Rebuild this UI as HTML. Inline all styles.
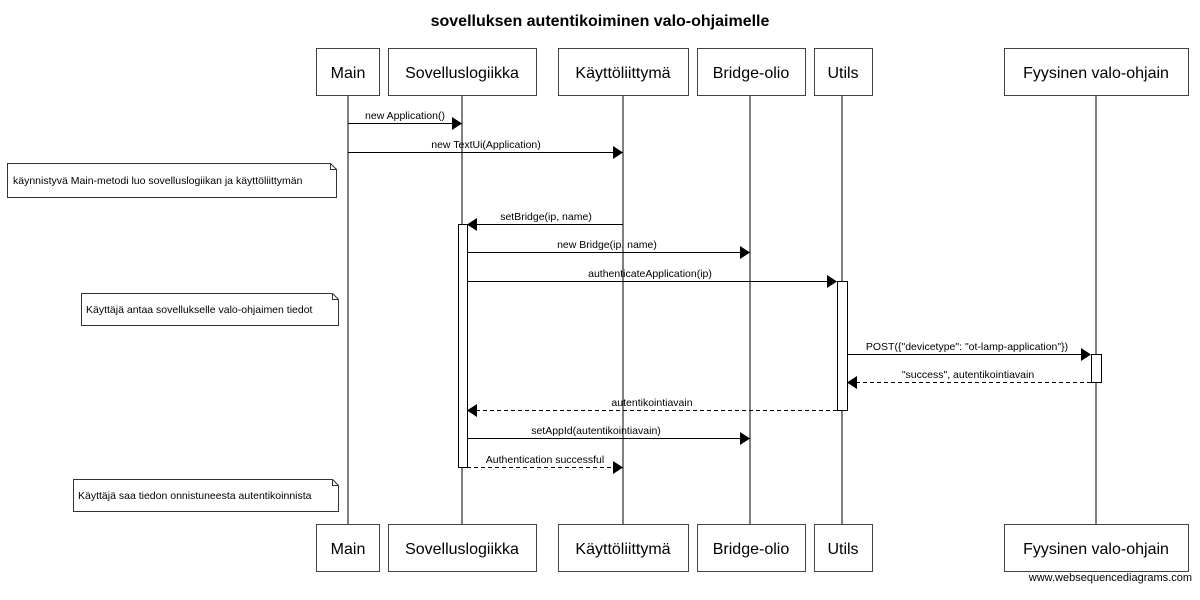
<!DOCTYPE html>
<html><head><meta charset="utf-8"><style>body{margin:0;background:#fff}svg{display:block}text{font-family:"Liberation Sans",sans-serif;fill:#000}</style></head><body>
<svg width="1200" height="600" viewBox="0 0 1200 600" xmlns="http://www.w3.org/2000/svg">
<text x="600" y="26" font-size="16" font-weight="bold" text-anchor="middle">sovelluksen autentikoiminen valo-ohjaimelle</text>
<g stroke="#000" stroke-width="1">
<line x1="348" y1="96" x2="348" y2="524"/><line x1="462" y1="96" x2="462" y2="524"/><line x1="623" y1="96" x2="623" y2="524"/><line x1="750" y1="96" x2="750" y2="524"/><line x1="842" y1="96" x2="842" y2="524"/><line x1="1096" y1="96" x2="1096" y2="524"/>
</g>
<g fill="#fff" stroke="#444" stroke-width="1">
<rect x="316.5" y="48.5" width="63" height="47"/><rect x="388.5" y="48.5" width="148" height="47"/><rect x="558.5" y="48.5" width="130" height="47"/><rect x="697.5" y="48.5" width="108" height="47"/><rect x="814.5" y="48.5" width="58" height="47"/><rect x="1004.5" y="48.5" width="184" height="47"/>
<rect x="316.5" y="524.5" width="63" height="47"/><rect x="388.5" y="524.5" width="148" height="47"/><rect x="558.5" y="524.5" width="130" height="47"/><rect x="697.5" y="524.5" width="108" height="47"/><rect x="814.5" y="524.5" width="58" height="47"/><rect x="1004.5" y="524.5" width="184" height="47"/>
<rect x="458.5" y="224.5" width="9" height="243" stroke="#000"/><rect x="837.5" y="281.5" width="10" height="129" stroke="#000"/><rect x="1091.5" y="354.5" width="10" height="28" stroke="#000"/>
</g>
<g font-size="16" text-anchor="middle">
<text x="348" y="78">Main</text><text x="462" y="78">Sovelluslogiikka</text><text x="623" y="78">Käyttöliittymä</text><text x="751" y="78">Bridge-olio</text><text x="843" y="78">Utils</text><text x="1096" y="78">Fyysinen valo-ohjain</text>
<text x="348" y="554">Main</text><text x="462" y="554">Sovelluslogiikka</text><text x="623" y="554">Käyttöliittymä</text><text x="751" y="554">Bridge-olio</text><text x="843" y="554">Utils</text><text x="1096" y="554">Fyysinen valo-ohjain</text>
</g>
<g fill="#fff" stroke="#333">
<path d="M7.5 163.5H330.5L336.5 169.5V197.5H7.5Z"/><path d="M330.5 163.5V169.5H336.5" fill="none"/>
<path d="M81.5 293.5H332.5L338.5 299.5V325.5H81.5Z"/><path d="M332.5 293.5V299.5H338.5" fill="none"/>
<path d="M73.5 479.5H332.5L338.5 485.5V511.5H73.5Z"/><path d="M332.5 479.5V485.5H338.5" fill="none"/>
</g>
<g font-size="10.5">
<text x="13" y="184">käynnistyvä Main-metodi luo sovelluslogiikan ja käyttöliittymän</text>
<text x="86" y="313">Käyttäjä antaa sovellukselle valo-ohjaimen tiedot</text>
<text x="78" y="499">Käyttäjä saa tiedon onnistuneesta autentikoinnista</text>
</g>
<g stroke="#000" stroke-width="1">
<line x1="348" y1="123.5" x2="452" y2="123.5"/><line x1="348" y1="152.5" x2="615" y2="152.5"/><line x1="623" y1="224.5" x2="476" y2="224.5"/><line x1="467" y1="252.5" x2="742" y2="252.5"/><line x1="467" y1="281.5" x2="829" y2="281.5"/><line x1="847" y1="354.5" x2="1083" y2="354.5"/><line x1="467" y1="438.5" x2="742" y2="438.5"/>
<g stroke-dasharray="4,3"><line x1="1091" y1="382.5" x2="856" y2="382.5"/><line x1="837" y1="410.5" x2="476" y2="410.5"/><line x1="467" y1="467.5" x2="615" y2="467.5"/></g>
</g>
<g fill="#000">
<path d="M452 117L462 123.5L452 130Z"/><path d="M613 146L623 152.5L613 159Z"/><path d="M477 218L467 224.5L477 231Z"/><path d="M740 246L750 252.5L740 259Z"/><path d="M827 275L837 281.5L827 288Z"/><path d="M1081 348L1091 354.5L1081 361Z"/><path d="M857 376L847 382.5L857 389Z"/><path d="M477 404L467 410.5L477 417Z"/><path d="M740 432L750 438.5L740 445Z"/><path d="M613 461L623 467.5L613 474Z"/>
</g>
<g font-size="10.5" text-anchor="middle">
<text x="405" y="119">new Application()</text><text x="486" y="148">new TextUi(Application)</text><text x="546" y="220">setBridge(ip, name)</text><text x="607" y="248">new Bridge(ip, name)</text><text x="650" y="277">authenticateApplication(ip)</text><text x="967" y="350">POST({"devicetype": "ot-lamp-application"})</text><text x="968" y="378">"success", autentikointiavain</text><text x="652" y="406">autentikointiavain</text><text x="596" y="434">setAppId(autentikointiavain)</text><text x="545" y="463">Authentication successful</text>
</g>
<text x="1192" y="581" font-size="11" text-anchor="end">www.websequencediagrams.com</text>
</svg>
</body></html>
